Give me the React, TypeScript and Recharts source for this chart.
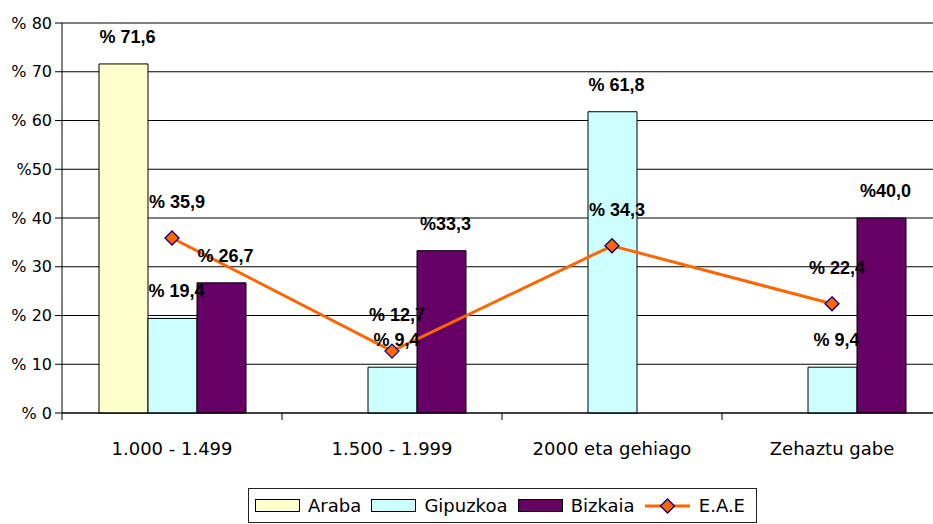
import React from 'react';
import { ComposedChart, Bar, Line, XAxis, YAxis, CartesianGrid, LabelList, Legend } from 'recharts';

const categories = ['1.000 - 1.499', '1.500 - 1.999', '2000 eta gehiago', 'Zehaztu gabe'];
const araba: (number | null)[] = [71.6, null, null, null];
const gipuzkoa: (number | null)[] = [19.4, 9.4, 61.8, 9.4];
const bizkaia: (number | null)[] = [26.7, 33.3, null, 40.0];
const eae: (number | null)[] = [35.9, 12.7, 34.3, 22.4];

const arabaLabels = ['% 71,6', '', '', ''];
const gipuzkoaLabels = ['% 19,4', '% 9,4', '% 61,8', '% 9,4'];
const bizkaiaLabels = ['% 26,7', '%33,3', '', '%40,0'];
const eaeLabels = ['% 35,9', '% 12,7', '% 34,3', '% 22,4'];

const yTicks = [0, 10, 20, 30, 40, 50, 60, 70, 80];
const yTickLabels = ['% 0', '% 10', '% 20', '% 30', '% 40', '%50', '% 60', '% 70', '% 80'];

const seriesNames = ['Araba', 'Gipuzkoa', 'Bizkaia', 'E.A.E'];

const data = categories.map((category, i) => ({
  category,
  araba: araba[i],
  gipuzkoa: gipuzkoa[i],
  bizkaia: bizkaia[i],
  eae: eae[i],
  arabaLabel: arabaLabels[i],
  gipuzkoaLabel: gipuzkoaLabels[i],
  bizkaiaLabel: bizkaiaLabels[i],
  eaeLabel: eaeLabels[i],
}));

const FONT = '"DejaVu Sans", Verdana, sans-serif';
const LABEL_FONT = '"Liberation Sans", Arial, sans-serif';
const ORANGE = '#FF6600';
const NAVY = '#000080';

const BarLabel = (props: any) => {
  const { x, y, width, value } = props;
  if (!value) return null;
  return (
    <text x={Number(x) + Number(width) / 2 + 4} y={Number(y) - 27} textAnchor="middle" dominantBaseline="central"
      fontFamily={LABEL_FONT} fontWeight="bold" fontSize={18} fill="#000">{value}</text>
  );
};

const LineLabel = (props: any) => {
  const { x, y, value } = props;
  if (!value) return null;
  return (
    <text x={Number(x) + 5} y={Number(y) - 36} textAnchor="middle" dominantBaseline="central"
      fontFamily={LABEL_FONT} fontWeight="bold" fontSize={18} fill="#000">{value}</text>
  );
};

const Diamond = (props: any) => {
  const { cx, cy } = props;
  if (cx == null || cy == null) return null;
  const r = 7;
  return (
    <polygon points={`${cx},${cy - r} ${cx + r},${cy} ${cx},${cy + r} ${cx - r},${cy}`}
      fill={ORANGE} stroke={NAVY} strokeWidth={1.3} />
  );
};

const XTick = (props: any) => {
  const { x, y, payload, width, visibleTicksCount } = props;
  const half = payload && payload.offset ? payload.offset : (Number(width) / (visibleTicksCount || 4)) / 2;
  const bx = Number(x) - half;
  return (
    <g>
      <line x1={bx} y1={y} x2={bx} y2={Number(y) + 7} stroke="#000" strokeWidth={1} />
      <text x={x} y={Number(y) + 35} textAnchor="middle" dominantBaseline="central"
        fontFamily={FONT} fontSize={18} fill="#000">{payload.value}</text>
    </g>
  );
};

const LegendContent = (props: any) => {
  const payload: any[] = [...(props.payload || [])].sort(
    (a, b) => seriesNames.indexOf(a.value) - seriesNames.indexOf(b.value)
  );
  return (
    <div style={{
      height: 35, boxSizing: 'border-box', border: '1px solid #222', display: 'flex', alignItems: 'center',
      justifyContent: 'space-between', paddingLeft: 6, paddingRight: 11,
      fontFamily: FONT, fontSize: 18, color: '#000', background: '#fff', whiteSpace: 'nowrap',
    }}>
      {payload.map((entry, i) => (
        <div key={i} style={{ display: 'flex', alignItems: 'center' }}>
          {entry.type === 'line' ? (
            <svg width={45} height={16} style={{ marginRight: 9 }}>
              <line x1={0} y1={8} x2={45} y2={8} stroke={ORANGE} strokeWidth={3} />
              <polygon points="22.5,1 29.5,8 22.5,15 15.5,8" fill={ORANGE} stroke={NAVY} strokeWidth={1.3} />
            </svg>
          ) : (
            <div style={{ width: 45, height: 13, boxSizing: 'border-box', border: '1px solid #000', background: entry.color, marginRight: 8 }} />
          )}
          <span>{entry.value}</span>
        </div>
      ))}
    </div>
  );
};

export default function App() {
  return (
    <div style={{ position: 'absolute', left: 0, top: 0, width: 933, height: 524, overflow: 'hidden', background: '#fff' }}>
      <ComposedChart width={950} height={524} data={data} margin={{ top: 23, right: 8, left: 0, bottom: 0 }}
        barGap={0}>
        <CartesianGrid vertical={false} stroke="#000" strokeWidth={1} />
        <XAxis dataKey="category" height={76} tickSize={0} tickMargin={0} tickLine={false}
          axisLine={{ stroke: '#000' }} tick={<XTick />} interval={0} />
        <YAxis width={62} domain={[0, 80]} ticks={yTicks} interval={0} tickSize={7} tickMargin={3}
          axisLine={{ stroke: '#000' }} tickLine={{ stroke: '#000' }}
          tick={{ fontFamily: FONT, fontSize: 16, fill: '#000' }}
          tickFormatter={(v: number) => yTickLabels[yTicks.indexOf(v)]} />
        <Bar dataKey="araba" name={seriesNames[0]} fill="#FFFFCC" stroke="#000" strokeWidth={1} barSize={49} isAnimationActive={false}>
          <LabelList dataKey="arabaLabel" content={<BarLabel />} />
        </Bar>
        <Bar dataKey="gipuzkoa" name={seriesNames[1]} fill="#CCFFFF" stroke="#000" strokeWidth={1} barSize={49} isAnimationActive={false}>
          <LabelList dataKey="gipuzkoaLabel" content={<BarLabel />} />
        </Bar>
        <Bar dataKey="bizkaia" name={seriesNames[2]} fill="#660066" stroke="#000" strokeWidth={1} barSize={49} isAnimationActive={false}>
          <LabelList dataKey="bizkaiaLabel" content={<BarLabel />} />
        </Bar>
        <Line dataKey="eae" name={seriesNames[3]} type="linear" stroke={ORANGE} strokeWidth={3} dot={<Diamond />}
          activeDot={false} legendType="line" isAnimationActive={false}>
          <LabelList dataKey="eaeLabel" content={<LineLabel />} />
        </Line>
        <Legend verticalAlign="bottom" content={<LegendContent />}
          wrapperStyle={{ left: 248, width: 509, bottom: 1 }} />
      </ComposedChart>
    </div>
  );
}
